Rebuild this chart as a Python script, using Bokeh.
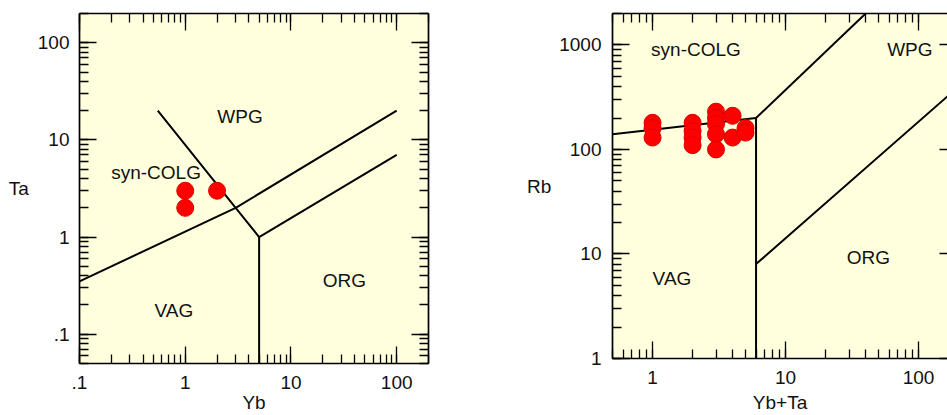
from bokeh.plotting import figure
from bokeh.models import LogAxis, FixedTicker, Range1d
from bokeh.embed import file_html
from bokeh.resources import INLINE
from bokeh.core.properties import value

# ---------------- data ----------------
# Left panel: Ta vs Yb
yb = [1, 1, 2]
ta = [3, 2, 3]

# Right panel: Rb vs Yb+Ta
ybta = [1, 1, 1, 2, 2, 2, 2, 3, 3, 3, 3, 3, 4, 4, 5, 5]
rb = [180, 160, 130, 180, 150, 130, 110, 230, 200, 175, 140, 100, 210, 130, 160, 145]

# Field boundaries (Pearce et al. 1984) - left
ta_b1_x = [0.1, 3, 100]
ta_b1_y = [0.35, 2, 20]
ta_b2_x = [0.55, 3, 5]
ta_b2_y = [20, 2, 1]
ta_b3_x = [5, 5]
ta_b3_y = [1, 0.05]
ta_b4_x = [5, 100]
ta_b4_y = [1, 7]

# Field boundaries - right
rb_b1_x = [0.5, 6]
rb_b1_y = [140, 200]
rb_b2_x = [6, 40]
rb_b2_y = [200, 2000]
rb_b3_x = [6, 6]
rb_b3_y = [200, 1]
rb_b4_x = [6, 200]
rb_b4_y = [8, 400]

# Field names
ta_field_names = ["WPG", "syn-COLG", "VAG", "ORG"]
ta_field_x = [3.3, 0.53, 0.78, 32]
ta_field_y = [17.5, 4.6, 0.175, 0.355]
rb_field_names = ["syn-COLG", "WPG", "VAG", "ORG"]
rb_field_x = [2.12, 86, 1.4, 42]
rb_field_y = [910, 910, 5.8, 9.3]

# Ticks
ta_x_ticks = [0.1, 1, 10, 100]
ta_x_labels = [".1", "1", "10", "100"]
ta_y_ticks = [0.1, 1, 10, 100]
ta_y_labels = [".1", "1", "10", "100"]
rb_x_ticks = [1, 10, 100]
rb_x_labels = ["1", "10", "100"]
rb_y_ticks = [1, 10, 100, 1000]
rb_y_labels = ["1", "10", "100", "1000"]

FONT = "Liberation Sans"
FS = "19px"
TXT = "#111111"
BG = "#ffffdd"


def minor_ticks(lo, hi):
    out = []
    for k in range(-3, 5):
        for m in range(1, 10):
            v = m * 10 ** k
            if lo <= v <= hi * 1.0001:
                out.append(v)
    return out


def style_axis(ax, ticks, labels, minor, show_labels):
    ax.ticker = FixedTicker(ticks=ticks, minor_ticks=minor)
    ax.major_tick_in = 17
    ax.major_tick_out = 0
    ax.minor_tick_in = 9
    ax.minor_tick_out = 0
    ax.major_tick_line_width = 1.3
    ax.minor_tick_line_width = 1.3
    ax.major_tick_line_color = "black"
    ax.minor_tick_line_color = "black"
    ax.axis_line_width = 1.7
    ax.axis_line_color = "black"
    if show_labels:
        ax.major_label_overrides = {t: l for t, l in zip(ticks, labels)}
        ax.major_label_text_font = FONT
        ax.major_label_text_font_size = FS
        ax.major_label_text_color = TXT
        ax.axis_label_text_font = FONT
        ax.axis_label_text_font_size = FS
        ax.axis_label_text_font_style = "normal"
        ax.axis_label_text_color = TXT
    else:
        ax.major_label_overrides = {t: "" for t in ticks}
        ax.major_label_text_font_size = "1px"
        ax.major_label_text_alpha = 0
        ax.major_label_standoff = 0


def make_panel(width, xr, yr, mb_left, mb_right, mb_bottom):
    p = figure(width=width, height=415, x_axis_type="log", y_axis_type="log",
               x_range=Range1d(*xr), y_range=Range1d(*yr),
               output_backend="svg", toolbar_location=None,
               min_border_left=mb_left, min_border_right=mb_right,
               min_border_top=13, min_border_bottom=mb_bottom)
    p.background_fill_color = BG
    p.border_fill_color = "white"
    p.grid.visible = False
    p.outline_line_color = None
    return p


# ---------------- left panel ----------------
p1 = make_panel(520, (0.1, 200), (0.05, 200), 79, 92, 52)
xmin1 = minor_ticks(0.1, 200)
ymin1 = minor_ticks(0.05, 200)
style_axis(p1.xaxis[0], ta_x_ticks, ta_x_labels, xmin1, True)
style_axis(p1.yaxis[0], ta_y_ticks, ta_y_labels, ymin1, True)
p1.xaxis[0].axis_label = "Yb"
p1.yaxis[0].axis_label = "Ta"
p1.yaxis[0].axis_label_orientation = "horizontal"
p1.xaxis[0].major_label_standoff = 12
p1.xaxis[0].axis_label_standoff = 0
p1.yaxis[0].major_label_standoff = 10
p1.yaxis[0].axis_label_standoff = 6
top1 = LogAxis()
style_axis(top1, ta_x_ticks, ta_x_labels, xmin1, False)
p1.add_layout(top1, "above")
right1 = LogAxis()
style_axis(right1, ta_y_ticks, ta_y_labels, ymin1, False)
p1.add_layout(right1, "right")

for xs, ys in [(ta_b1_x, ta_b1_y), (ta_b2_x, ta_b2_y), (ta_b3_x, ta_b3_y), (ta_b4_x, ta_b4_y)]:
    p1.line(xs, ys, line_color="black", line_width=2)

p1.text(x=ta_field_x, y=ta_field_y, text=ta_field_names, text_font=value(FONT),
        text_font_size=FS, text_color=TXT, text_align="center", text_baseline="middle")

p1.scatter(x=yb, y=ta, size=17, fill_color="#ff0000", line_color="#dd0000", line_width=1)

# ---------------- right panel ----------------
p2 = make_panel(427, (0.5, 165), (1, 2000), 92, 0, 57)
xmin2 = minor_ticks(0.5, 165)
ymin2 = minor_ticks(1, 2000)
style_axis(p2.xaxis[0], rb_x_ticks, rb_x_labels, xmin2, True)
style_axis(p2.yaxis[0], rb_y_ticks, rb_y_labels, ymin2, True)
p2.xaxis[0].axis_label = "Yb+Ta"
p2.yaxis[0].axis_label = "Rb"
p2.yaxis[0].axis_label_orientation = "horizontal"
p2.xaxis[0].major_label_standoff = 12
p2.xaxis[0].axis_label_standoff = 5
p2.yaxis[0].major_label_standoff = 11
p2.yaxis[0].axis_label_standoff = 5
top2 = LogAxis()
style_axis(top2, rb_x_ticks, rb_x_labels, xmin2, False)
p2.add_layout(top2, "above")
right2 = LogAxis()
style_axis(right2, rb_y_ticks, rb_y_labels, [1], False)
right2.major_tick_in = 8
right2.minor_tick_in = 0
right2.axis_line_alpha = 0
p2.add_layout(right2, "right")

for xs, ys in [(rb_b1_x, rb_b1_y), (rb_b2_x, rb_b2_y), (rb_b3_x, rb_b3_y), (rb_b4_x, rb_b4_y)]:
    p2.line(xs, ys, line_color="black", line_width=2)

p2.text(x=rb_field_x, y=rb_field_y, text=rb_field_names, text_font=value(FONT),
        text_font_size=FS, text_color=TXT, text_align="center", text_baseline="middle")

p2.scatter(x=ybta, y=rb, size=17, fill_color="#ff0000", line_color="#dd0000", line_width=1)

# Two independent roots side by side (so that each panel keeps its own frame)
TEMPLATE = """
{% block contents %}
<div style="display:flex;flex-direction:row;align-items:flex-start;">
{% for doc in docs %}{% for root in doc.roots %}<div id="{{ root.elementid }}" style="display: contents;"></div>{% endfor %}{% endfor %}
</div>
{% endblock %}
"""

open("out.html", "w").write(file_html([p1, p2], INLINE, template=TEMPLATE))
